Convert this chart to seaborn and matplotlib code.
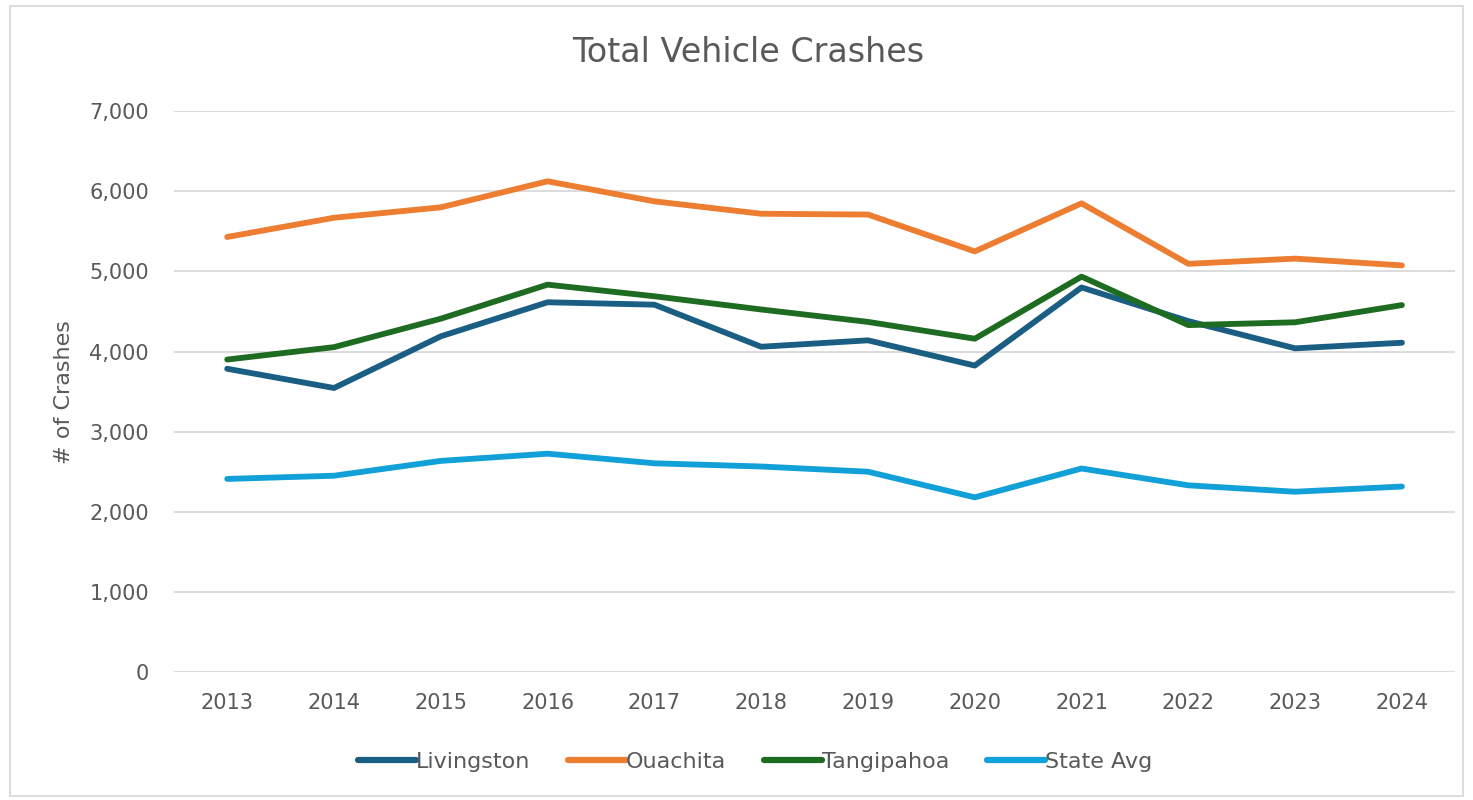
import pandas as pd
import seaborn as sns
import matplotlib.pyplot as plt
from matplotlib.patches import Rectangle
from matplotlib.ticker import FuncFormatter

# data
years = ['2013', '2014', '2015', '2016', '2017', '2018', '2019', '2020', '2021', '2022', '2023', '2024']
livingston = [3785, 3545, 4190, 4615, 4585, 4060, 4140, 3825, 4800, 4380, 4040, 4110]
ouachita = [5430, 5670, 5800, 6125, 5875, 5720, 5710, 5250, 5850, 5095, 5160, 5075]
tangipahoa = [3900, 4055, 4410, 4835, 4690, 4525, 4370, 4160, 4935, 4330, 4365, 4580]
state_avg = [2410, 2450, 2635, 2725, 2605, 2565, 2500, 2180, 2540, 2330, 2250, 2315]

series = ['Livingston', 'Ouachita', 'Tangipahoa', 'State Avg']
colors = ['#1A5E84', '#ED7D31', '#1E6B22', '#12A0D8']

df = pd.DataFrame({'Year': years * 4,
                   'Crashes': livingston + ouachita + tangipahoa + state_avg,
                   'County': [s for s in series for _ in years]})

sns.set_style('white')
plt.rcParams['font.family'] = ['DejaVu Sans']
grey = '#595959'

fig = plt.figure(figsize=(14.73, 8), dpi=100)
ax = fig.add_axes([0.118, 0.16, 0.870, 0.701])

sns.lineplot(data=df, x='Year', y='Crashes', hue='County', palette=colors,
             linewidth=4.2, sort=False, ax=ax, solid_capstyle='round')

ax.set_ylim(0, 7000)
ax.set_xlim(-0.5, len(years) - 0.5)
ax.set_yticks(range(0, 7001, 1000))
ax.yaxis.set_major_formatter(FuncFormatter(lambda v, p: f'{int(v):,}'))
ax.grid(axis='y', color='#D9D9D9', linewidth=1.3)
ax.set_axisbelow(True)
for s in ax.spines.values():
    s.set_visible(False)
ax.tick_params(axis='both', length=0, labelsize=15, colors=grey)
ax.tick_params(axis='x', pad=15)
ax.tick_params(axis='y', pad=18)
ax.set_xlabel('')
ax.set_ylabel('# of Crashes', fontsize=16, color=grey, labelpad=11)
fig.suptitle('Total Vehicle Crashes', x=0.508, y=1 - 52 / 800, va='center',
             fontsize=24, color=grey)

ax.get_legend().remove()
handles, labels = ax.get_legend_handles_labels()
leg = fig.legend(handles, labels, loc='center', bbox_to_anchor=(755 / 1473, 1 - 762 / 800),
                 ncol=4, frameon=False, handlelength=2.6, handletextpad=0.0,
                 columnspacing=1.7, labelcolor=grey, fontsize=16)
for h in leg.get_lines():
    h.set_linewidth(4.5)
    h.set_solid_capstyle('round')

# outer chart border
fig.patches.append(Rectangle((10 / 1473, 4 / 800), 1453 / 1473, 790 / 800,
                             transform=fig.transFigure, fill=False,
                             edgecolor='#D9D9D9', linewidth=1.3))

fig.savefig('out.png', dpi=100)
